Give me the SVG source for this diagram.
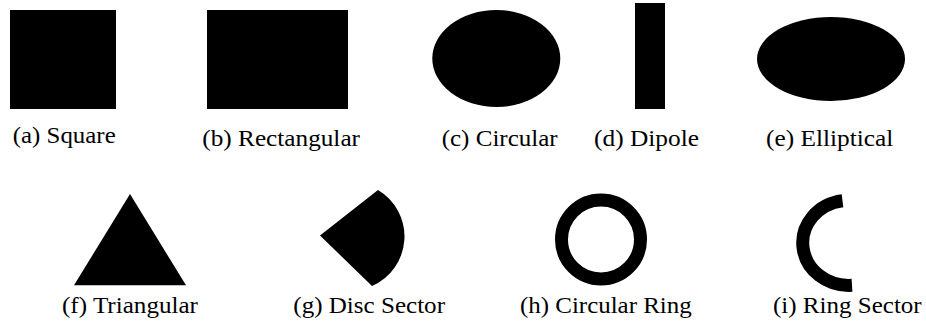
<svg xmlns="http://www.w3.org/2000/svg" width="926" height="325" viewBox="0 0 926 325">
  <style>
    .shape { fill: #000; }
    .ring { fill: none; stroke: #000; stroke-width: 13; }
    .label { font-family: 'Liberation Serif', 'Times New Roman', serif; font-size: 22.5px; fill: #000; }
  </style>
  <rect width="926" height="325" fill="#fff"/>

  <!-- Top row: solid shapes -->
  <g id="square">
    <rect class="shape" x="10" y="10" width="106" height="99"/>
    <text class="label" x="12.7" y="143" textLength="103" lengthAdjust="spacingAndGlyphs">(a) Square</text>
  </g>
  <g id="rectangular">
    <rect class="shape" x="207" y="10" width="141" height="99"/>
    <text class="label" x="202.3" y="146" textLength="157.7" lengthAdjust="spacingAndGlyphs">(b) Rectangular</text>
  </g>
  <g id="circular">
    <ellipse class="shape" cx="496.3" cy="58.5" rx="64" ry="48.5"/>
    <text class="label" x="441.7" y="146" textLength="116" lengthAdjust="spacingAndGlyphs">(c) Circular</text>
  </g>
  <g id="dipole">
    <rect class="shape" x="635" y="3" width="30" height="106"/>
    <text class="label" x="594" y="146" textLength="105" lengthAdjust="spacingAndGlyphs">(d) Dipole</text>
  </g>
  <g id="elliptical">
    <ellipse class="shape" cx="831" cy="59" rx="74" ry="42"/>
    <text class="label" x="766" y="146" textLength="127.3" lengthAdjust="spacingAndGlyphs">(e) Elliptical</text>
  </g>

  <!-- Bottom row: triangle, sector and rings -->
  <g id="triangular">
    <polygon class="shape" points="130,194 186,285.3 74,285.3"/>
    <text class="label" x="62" y="313.3" textLength="136" lengthAdjust="spacingAndGlyphs">(f) Triangular</text>
  </g>
  <g id="disc-sector">
    <path class="shape" d="M320,235.5 L378,190 A54,54 0 0 1 372,286 Z"/>
    <text class="label" x="293.3" y="313.3" textLength="151.7" lengthAdjust="spacingAndGlyphs">(g) Disc Sector</text>
  </g>
  <g id="circular-ring">
    <circle class="ring" cx="601" cy="239.5" r="39.5"/>
    <text class="label" x="520" y="313.3" textLength="171.7" lengthAdjust="spacingAndGlyphs">(h) Circular Ring</text>
  </g>
  <g id="ring-sector">
    <path class="ring" d="M842.5,200.8 A46,42.5 0 0 0 852,285.3"/>
    <text class="label" x="773" y="313.3" textLength="148.7" lengthAdjust="spacingAndGlyphs">(i) Ring Sector</text>
  </g>
</svg>
